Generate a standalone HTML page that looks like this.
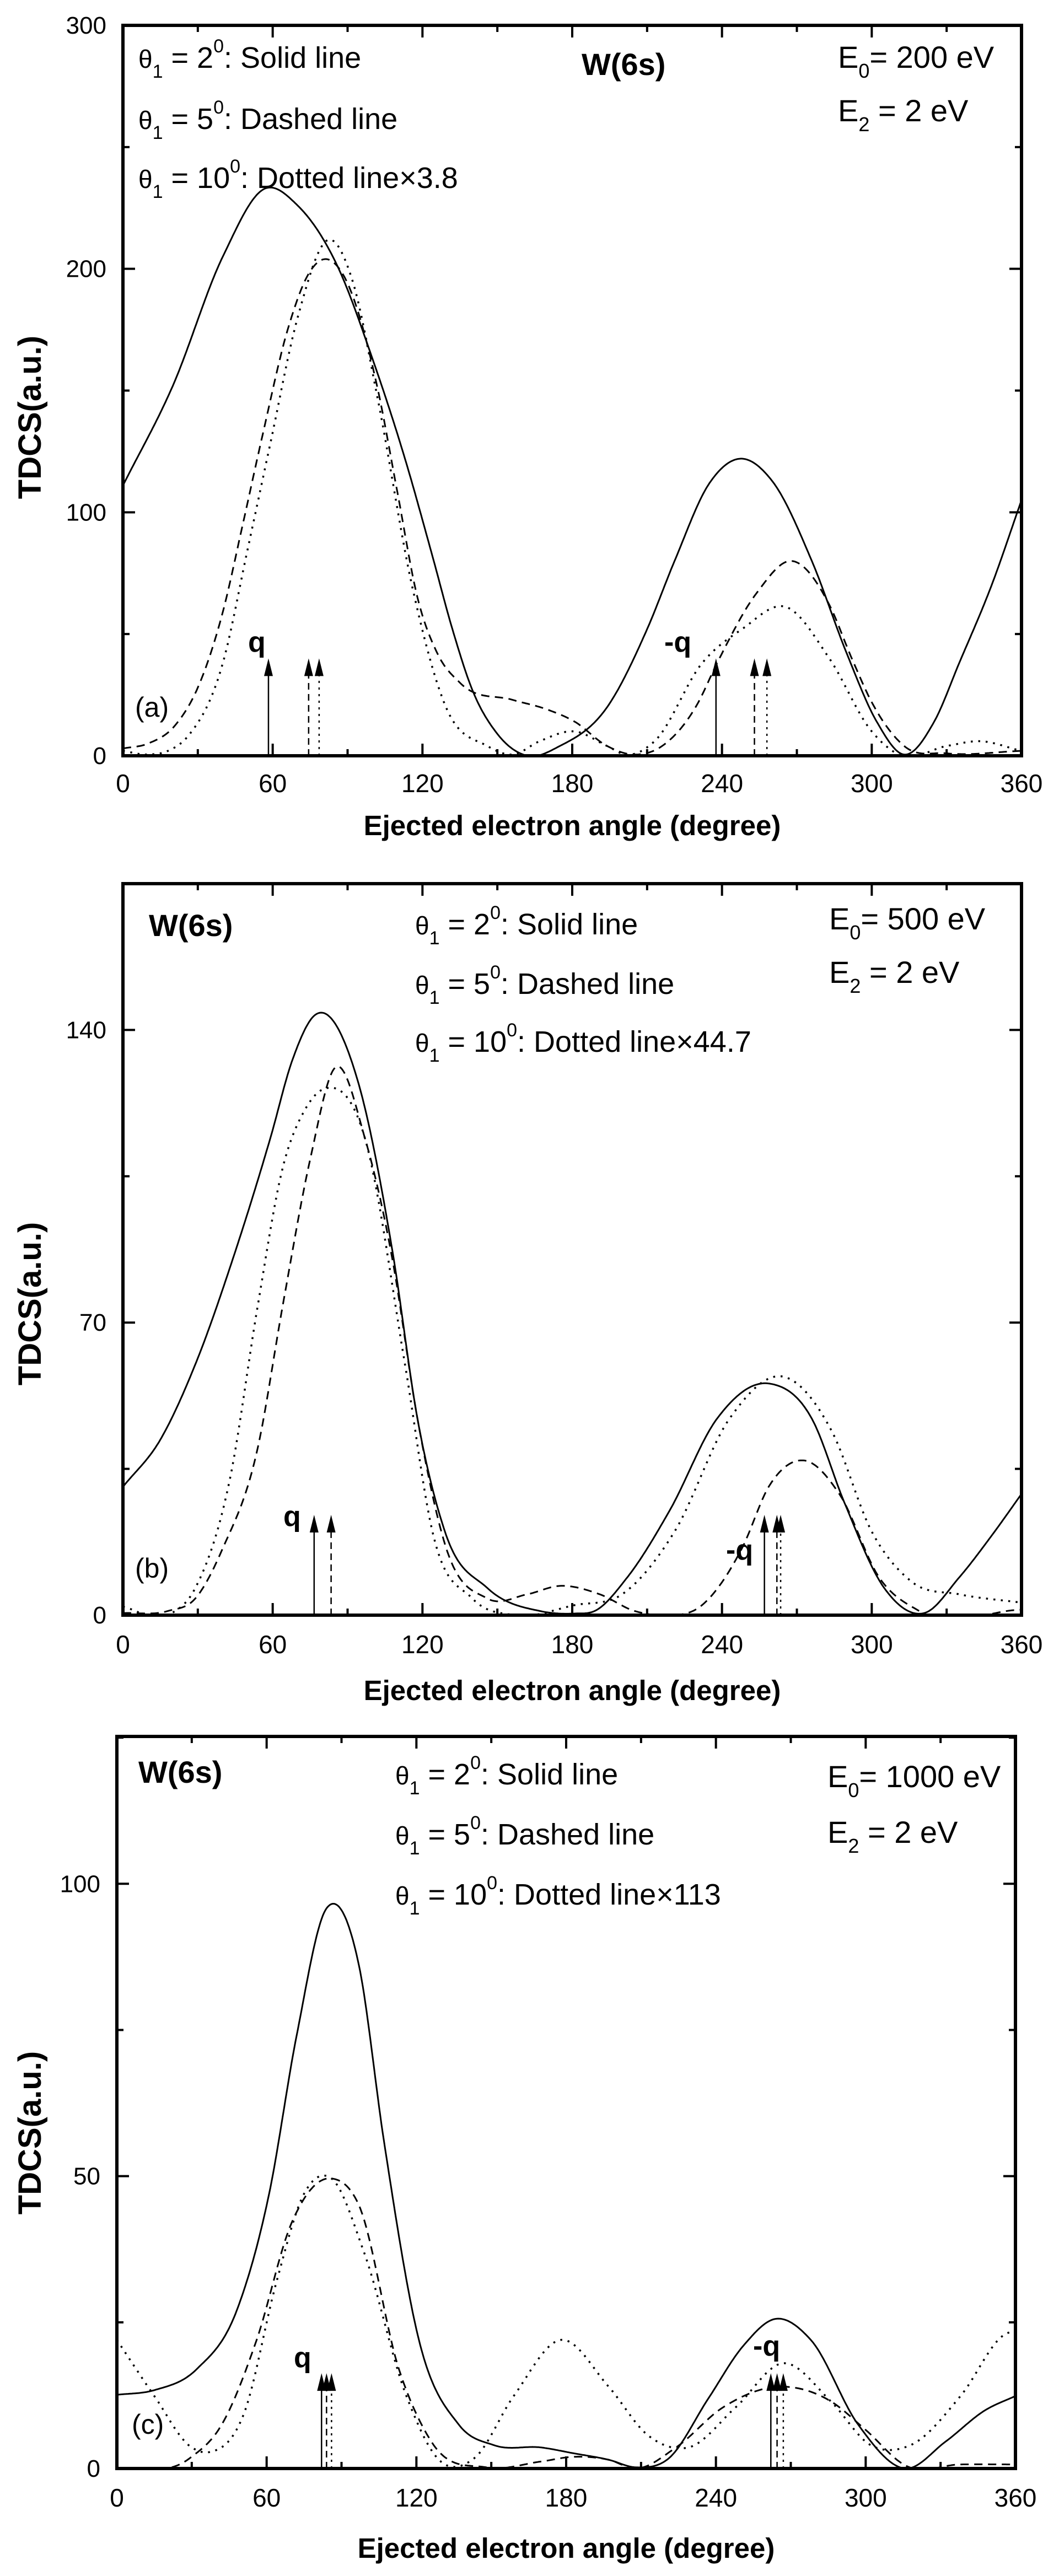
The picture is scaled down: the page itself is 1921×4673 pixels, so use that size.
<!DOCTYPE html>
<html><head><meta charset="utf-8"><style>
html,body{margin:0;padding:0;background:#fff;}
svg{display:block;}
text{font-family:"Liberation Sans",Arial,sans-serif;fill:#000;}
</style></head><body>
<svg id="s" width="1921" height="4673" viewBox="0 0 1921 4673" xmlns="http://www.w3.org/2000/svg"></svg>
<script>
var S=document.getElementById('s');var NS='http://www.w3.org/2000/svg';
function el(t,a,txt){var e=document.createElementNS(NS,t);for(var k in a)e.setAttribute(k,a[k]);if(txt!==undefined)e.textContent=txt;S.appendChild(e);return e;}
function interp(pts){
 var n=pts.length,m=[],d=[];
 for(var i=0;i<n-1;i++)d.push((pts[i+1][1]-pts[i][1])/(pts[i+1][0]-pts[i][0]));
 for(var i=0;i<n;i++){
  if(i==0)m.push(d[0]);else if(i==n-1)m.push(d[n-2]);
  else{var h0=pts[i][0]-pts[i-1][0],h1=pts[i+1][0]-pts[i][0];m.push((h1*d[i-1]+h0*d[i])/(h0+h1));}
 }
 var out=[];
 for(var i=0;i<n-1;i++){
  var x0=pts[i][0],x1=pts[i+1][0],h=x1-x0,y0=pts[i][1],y1=pts[i+1][1];
  var steps=Math.max(2,Math.ceil(h/0.5));
  for(var k=0;k<steps;k++){
   var t=k/steps,t2=t*t,t3=t2*t;
   var y=(2*t3-3*t2+1)*y0+(t3-2*t2+t)*h*m[i]+(-2*t3+3*t2)*y1+(t3-t2)*h*m[i+1];
   out.push([x0+t*h,y]);
  }
 }
 out.push(pts[n-1]);return out;
}
function panel(P){
 var X=function(v){return P.x0+(v/360)*(P.x1-P.x0);};
 var Y=function(v){return P.y1-(v/P.ymax)*(P.y1-P.y0);};
 P.curves.forEach(function(c){
  var pts=interp(c.pts);
  var d='M'+pts.map(function(p){return X(p[0]).toFixed(1)+','+Y(Math.max(0,p[1])).toFixed(1);}).join(' L');
  var a={d:d,fill:'none',stroke:'#000','stroke-width':3,'stroke-linejoin':'round'};
  if(c.t=='d')a['stroke-dasharray']='15 10';
  if(c.t=='o'){a['stroke-dasharray']='3.5 10';a['stroke-width']=3.5;}
  el('path',a);
 });
 P.arrows.forEach(function(ar){
  var x=X(ar[0]),ty=Y(P.tip);
  var a={x1:x,y1:P.y1,x2:x,y2:ty+28,stroke:'#000','stroke-width':2.5};
  if(ar[1]=='d')a['stroke-dasharray']='12 8';
  if(ar[1]=='o')a['stroke-dasharray']='4 8';
  el('line',a);
  el('polygon',{points:(x-8)+','+(ty+32)+' '+(x+8)+','+(ty+32)+' '+x+','+ty,fill:'#000'});
 });
 el('rect',{x:P.x0,y:P.y0,width:P.x1-P.x0,height:P.y1-P.y0,fill:'none',stroke:'#000','stroke-width':6});
 for(var v=0;v<=360;v+=30){
  var x=X(v),L=(v%60==0)?22:12;
  el('line',{x1:x,y1:P.y1,x2:x,y2:P.y1-L,stroke:'#000','stroke-width':4});
  el('line',{x1:x,y1:P.y0,x2:x,y2:P.y0+L,stroke:'#000','stroke-width':4});
  if(v%60==0)el('text',{x:x,y:P.xlb,'font-size':46,'text-anchor':'middle'},''+v);
 }
 for(var v=0;v<=P.ymax+0.01;v+=P.ystep/2){
  var y=Y(v),maj=Math.abs(v/P.ystep-Math.round(v/P.ystep))<1e-6,L=maj?22:12;
  el('line',{x1:P.x0,y1:y,x2:P.x0+L,y2:y,stroke:'#000','stroke-width':4});
  el('line',{x1:P.x1,y1:y,x2:P.x1-L,y2:y,stroke:'#000','stroke-width':4});
  if(maj)el('text',{x:P.x0-30,y:y+15,'font-size':44,'text-anchor':'end'},''+Math.round(v));
 }
 el('text',{x:(P.x0+P.x1)/2,y:P.xl,'font-size':51,'font-weight':'bold','text-anchor':'middle'},'Ejected electron angle (degree)');
 el('text',{x:0,y:0,'font-size':58,'font-weight':'bold','text-anchor':'middle',transform:'translate(74,'+P.yl+') rotate(-90)'},'TDCS(a.u.)');
 var leg=[['2','Solid line'],['5','Dashed line'],['10','Dotted line\u00d7'+P.mult]];
 leg.forEach(function(l,i){
  var tx=el('text',{x:P.lx,y:P.ly[i],'font-size':54});
  tx.innerHTML='<tspan font-size="46">\u03b8</tspan><tspan font-size="34" dy="18">1</tspan><tspan dy="-18"> = '+l[0]+'</tspan><tspan font-size="34" dy="-28">0</tspan><tspan dy="28">: '+l[1]+'</tspan>';
 });
 el('text',{x:P.wx,y:P.wy,'font-size':56,'font-weight':'bold'},'W(6s)');
 var e0=el('text',{x:P.ex,y:P.ey[0],'font-size':56});
 e0.innerHTML='E<tspan font-size="36" dy="18">0</tspan><tspan dy="-18">= '+P.E0+' eV</tspan>';
 var e2=el('text',{x:P.ex,y:P.ey[1],'font-size':56});
 e2.innerHTML='E<tspan font-size="36" dy="18">2</tspan><tspan dy="-18"> = 2 eV</tspan>';
 el('text',{x:P.lab[0],y:P.lab[1],'font-size':50},P.lab[2]);
 el('text',{x:P.q[0],y:P.q[1],'font-size':52,'font-weight':'bold'},'q');
 el('text',{x:P.mq[0],y:P.mq[1],'font-size':52,'font-weight':'bold'},'-q');
}
panel({x0:223,x1:1853,y0:46,y1:1371,ymax:300,ystep:100,xlb:1437,xl:1515,yl:757,mult:'3.8',
 lx:251,ly:[123,234,341],wx:1055,wy:136,ex:1520,ey:[123,220],E0:'200',lab:[245,1300,'(a)'],
 q:[450,1182],mq:[1205,1182],tip:40,
 arrows:[[58.3,'s'],[74.4,'d'],[78.6,'o'],[237.6,'s'],[253,'d'],[258,'o']],
 curves:[
 {t:'s',pts:[[0,111],[20,152],[40,205],[57,233],[70,226],[86,201],[100,163],[113,122],[124,82],[132,52],[140,27],[150,9],[162,0],[175,4],[194,20],[210,52],[221,80],[235,112],[247,122],[260,113],[276,80],[290,42],[302,14],[313,0.5],[325,14],[335,38],[348,70],[360,105]]},
 {t:'d',pts:[[0,3],[10,5],[21,12.6],[30,28],[40,59],[48,95],[56,132],[66,175],[75,199],[81,204],[88,198],[102,151],[110,108],[118,65],[126,42],[135,30],[156,23],[170,19],[181,14],[194,4],[205,0.5],[216,4],[230,21],[238,38],[254,67],[268,80],[283,62],[292,40],[300,22],[313,4],[330,1],[360,2]]},
 {t:'o',pts:[[0,2],[10,0.5],[18,2],[26,8],[40,38],[50,85],[59,128],[70,180],[83,212],[92,195],[102,147],[116,69],[129,21],[146,4],[156,0.5],[167,6],[181,10],[194,4],[202,0.4],[213,6],[232,38],[248,52],[266,61],[283,40],[300,10],[311,0.4],[330,4],[343,6],[360,2]]}
 ]});
panel({x0:223,x1:1853,y0:1603,y1:2930,ymax:175,ystep:70,xlb:2999,xl:3084,yl:2365,mult:'44.7',
 lx:753,ly:[1695,1803,1908],wx:270,wy:1698,ex:1504,ey:[1686,1783],E0:'500',lab:[245,2862,'(b)'],
 q:[514,2768],mq:[1317,2829],tip:24,
 arrows:[[76.6,'s'],[83.4,'d'],[257,'s'],[262,'d'],[263.5,'o']],
 curves:[
 {t:'s',pts:[[0,30.7],[15,42],[29,60],[45,87],[59,114],[68,133],[77,143.6],[94,128],[108,87],[118,47],[129,20],[146,6.5],[167,1],[181,0.4],[189,1],[202,9],[219,25],[238,47],[259,55.4],[276,47],[289,27],[305,6.5],[321,0.5],[335,9],[348,19],[360,29]]},
 {t:'d',pts:[[0,0.5],[18,1],[29,4],[40,16],[54,40],[64,74],[75,109],[85,131],[97,114],[108,85],[118,47],[129,17],[146,4],[162,5],[175,7],[191,5],[205,1],[216,0],[232,2.4],[248,16],[259,31],[273,37],[287,29],[303,9],[319,1],[360,1.3]]},
 {t:'o',pts:[[0,2],[18,0],[29,6.5],[43,33],[54,74],[64,107],[73,121],[81,126],[97,114],[113,60],[124,20],[140,4],[157,0],[181,2.4],[200,5],[221,20],[243,47],[265,57],[284,44],[300,20],[316,8],[335,5],[360,3]]}
 ]});
panel({x0:212,x1:1842,y0:3150,y1:4478,ymax:125.2,ystep:50,xlb:4547,xl:4640,yl:3869,mult:'113',
 lx:717,ly:[3237,3346,3455],wx:251,wy:3234,ex:1501,ey:[3242,3343],E0:'1000',lab:[239,4415,'(c)'],
 q:[533,4294],mq:[1366,4273],tip:16.3,
 arrows:[[82,'s'],[84,'d'],[86,'o'],[262,'s'],[264.5,'d'],[267,'o']],
 curves:[
 {t:'s',pts:[[0,12.6],[15,13.4],[32,17],[48,27],[61,47],[72,74],[84,95.8],[97,86],[107,56],[121,22],[137,7.5],[151,4],[170,3.6],[183,2.6],[197,1.5],[208,0.2],[221,1.7],[237,12],[251,21],[264,25.6],[278,22],[297,7.5],[316,0],[332,4.6],[348,10],[360,12.4]]},
 {t:'d',pts:[[0,0],[29,1.7],[42,7.5],[56,22],[70,42],[86,49.6],[97,45],[113,17],[126,4.6],[148,0.2],[170,1.2],[183,2],[197,1.5],[208,0],[224,3.6],[243,10.5],[267,14],[286,11.5],[300,6.6],[316,0.5],[338,0.7],[360,0.7]]},
 {t:'o',pts:[[0,22],[15,12.4],[30,3.6],[37,2.8],[51,9.5],[64,32],[75,47],[86,49.6],[99,37],[116,12.4],[129,1.5],[143,1.7],[159,12.4],[178,22],[197,14],[213,5.6],[229,3.6],[248,10.5],[267,18],[286,11.5],[302,4],[318,4],[338,12.4],[356,23],[360,23.6]]}
 ]});
</script>
</body></html>
